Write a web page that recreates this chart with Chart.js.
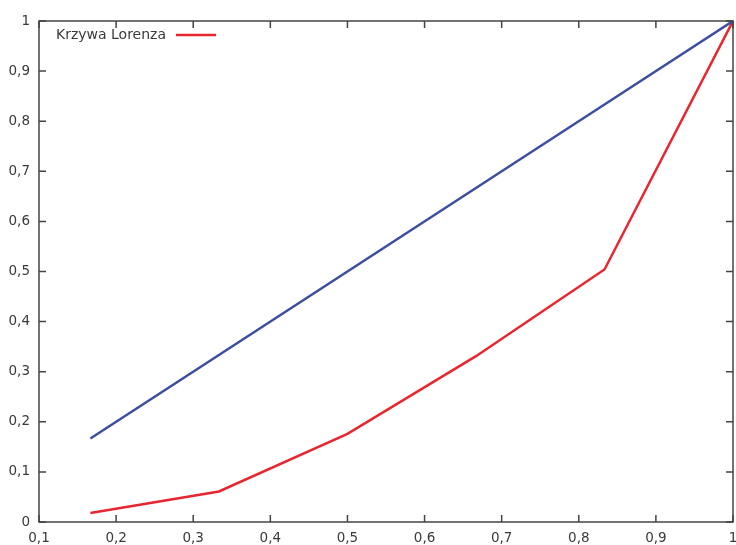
<!DOCTYPE html>
<html><head><meta charset="utf-8">
<script src="https://cdn.jsdelivr.net/npm/chart.js@4/dist/chart.umd.min.js"></script>
<style>html,body{margin:0;padding:0;background:#fff}#w{width:736px;height:545px}</style>
</head><body><div id="w"><canvas id="c"></canvas></div>
<script>
const xValues = [1/6, 2/6, 3/6, 4/6, 5/6, 1];
const lorenz = [0.018, 0.061, 0.176, 0.331, 0.504, 1.0];
const equality = [1/6, 2/6, 3/6, 4/6, 5/6, 1];
const seriesLabel = 'Krzywa Lorenza';
const xTicks = [0.1,0.2,0.3,0.4,0.5,0.6,0.7,0.8,0.9,1];
const yTicks = [0,0.1,0.2,0.3,0.4,0.5,0.6,0.7,0.8,0.9,1];
const fmt = v => { const r = Math.round(v*10)/10; return String(r).replace('.', ','); };
const FONT = '"DejaVu Sans", Verdana, sans-serif';

const frame = {
  id: 'frame',
  afterDraw(chart) {
    const ctx = chart.ctx, a = chart.chartArea;
    const xs = chart.scales.x, ys = chart.scales.y;
    ctx.save();
    ctx.strokeStyle = '#444';
    ctx.lineWidth = 1.5;
    ctx.strokeRect(a.left, a.top, a.right - a.left, a.bottom - a.top);
    ctx.beginPath();
    const tl = 7;
    xTicks.forEach(v => {
      const p = xs.getPixelForValue(v);
      ctx.moveTo(p, a.bottom); ctx.lineTo(p, a.bottom - tl);
      ctx.moveTo(p, a.top); ctx.lineTo(p, a.top + tl);
    });
    yTicks.forEach(v => {
      const p = ys.getPixelForValue(v);
      ctx.moveTo(a.left, p); ctx.lineTo(a.left + tl, p);
      ctx.moveTo(a.right, p); ctx.lineTo(a.right - tl, p);
    });
    ctx.stroke();
    ctx.font = '14px ' + FONT;
    ctx.fillStyle = '#3a3a3a';
    ctx.textBaseline = 'middle';
    ctx.textAlign = 'left';
    ctx.fillText(seriesLabel, a.left + 17, a.top + 14);
    ctx.strokeStyle = '#e8262e';
    ctx.lineWidth = 2.5;
    ctx.beginPath();
    ctx.moveTo(a.left + 137, a.top + 14); ctx.lineTo(a.left + 177, a.top + 14);
    ctx.stroke();
    ctx.restore();
  }
};

new Chart(document.getElementById('c'), {
  type: 'line',
  data: {
    datasets: [
      { label: 'equality', data: xValues.map((x,i)=>({x, y: equality[i]})), borderColor: '#3b4e9f', borderWidth: 2.5, pointRadius: 0, fill: false, tension: 0 },
      { label: seriesLabel, data: xValues.map((x,i)=>({x, y: lorenz[i]})), borderColor: '#e8262e', borderWidth: 2.5, pointRadius: 0, fill: false, tension: 0 }
    ]
  },
  options: {
    responsive: true, maintainAspectRatio: false, animation: false,
    layout: { padding: { top: 21, right: 3, left: 0, bottom: 0 } },
    plugins: { legend: { display: false }, tooltip: { enabled: false } },
    scales: {
      x: {
        type: 'linear', min: 0.1, max: 1,
        afterBuildTicks: s => { s.ticks = xTicks.map(v => ({value: v})); },
        afterFit: s => { s.height = 23; s.paddingLeft = 0; s.paddingRight = 0; },
        grid: { display: false, drawTicks: false },
        border: { display: false },
        ticks: { callback: fmt, padding: 8, color: '#3a3a3a', font: { family: FONT, size: 13.5 }, maxRotation: 0, autoSkip: false }
      },
      y: {
        type: 'linear', min: 0, max: 1,
        afterBuildTicks: s => { s.ticks = yTicks.map(v => ({value: v})); },
        afterFit: s => { s.width = 39; s.paddingTop = 0; s.paddingBottom = 0; },
        grid: { display: false, drawTicks: false },
        border: { display: false },
        ticks: { callback: fmt, padding: 9, color: '#3a3a3a', font: { family: FONT, size: 13.5 }, autoSkip: false }
      }
    }
  },
  plugins: [frame]
});
</script></body></html>
